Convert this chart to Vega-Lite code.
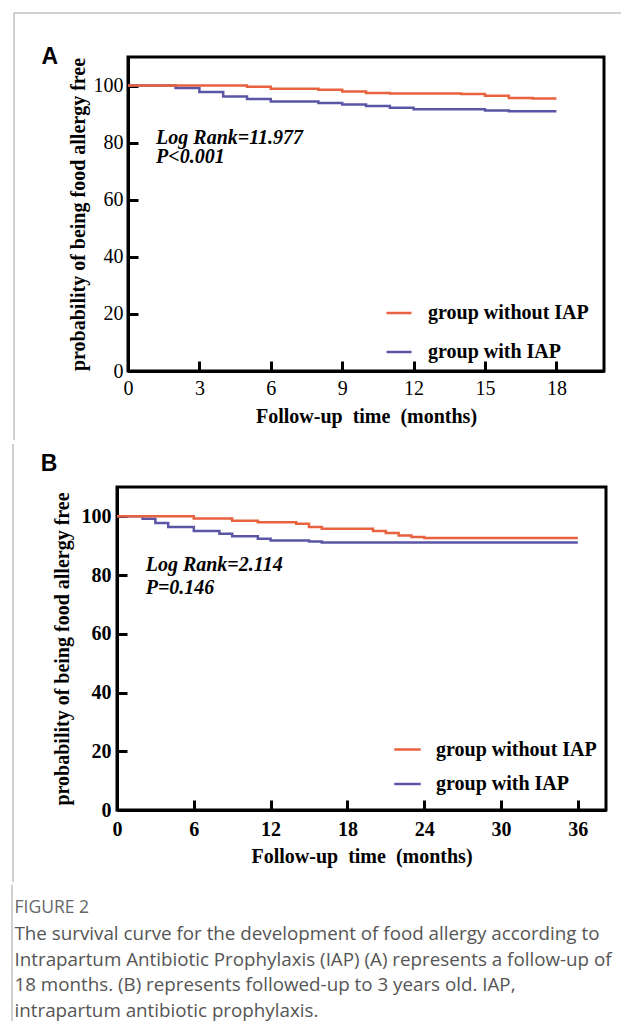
{
  "$schema": "https://vega.github.io/schema/vega-lite/v6.json",
  "padding": {"left": 10, "top": 10, "right": 0, "bottom": 0},
  "spacing": 0,
  "background": "white",
  "resolve": {"scale": {"color": "independent"}, "legend": {"color": "independent"}},
  "config": {
    "view": {"stroke": "black", "strokeWidth": 3},
    "axis": {"grid": false, "domainColor": "black", "domainWidth": 3, "tickColor": "black", "tickWidth": 3, "tickSize": -10,
      "labelFont": "Liberation Serif", "titleFont": "Liberation Serif", "labelColor": "black", "titleColor": "black",
      "labelFontSize": 20, "titleFontSize": 20, "titleFontWeight": "bold", "labelFlush": false, "labelOverlap": false},
    "legend": {"orient": "none", "title": null, "symbolType": "stroke", "symbolStrokeWidth": 2.5, "labelFont": "Liberation Serif",
      "labelFontSize": 20, "labelFontWeight": "bold", "labelColor": "black", "labelOffset": 14, "padding": 0, "labelLimit": 400},
    "text": {"font": "Liberation Serif"}
  },
  "datasets": {
    "A": [
      {"group": "group with IAP", "t": 0, "s": 100},
      {"group": "group with IAP", "t": 2, "s": 99.1},
      {"group": "group with IAP", "t": 3, "s": 97.7},
      {"group": "group with IAP", "t": 4, "s": 96.2},
      {"group": "group with IAP", "t": 5, "s": 95.3},
      {"group": "group with IAP", "t": 6, "s": 94.4},
      {"group": "group with IAP", "t": 8, "s": 93.9},
      {"group": "group with IAP", "t": 9, "s": 93.4},
      {"group": "group with IAP", "t": 10, "s": 92.8},
      {"group": "group with IAP", "t": 11, "s": 92.2},
      {"group": "group with IAP", "t": 12, "s": 91.7},
      {"group": "group with IAP", "t": 15, "s": 91.3},
      {"group": "group with IAP", "t": 16, "s": 91.0},
      {"group": "group with IAP", "t": 18, "s": 91.0},
      {"group": "group without IAP", "t": 0, "s": 100},
      {"group": "group without IAP", "t": 5, "s": 99.6},
      {"group": "group without IAP", "t": 6, "s": 98.9},
      {"group": "group without IAP", "t": 8, "s": 98.5},
      {"group": "group without IAP", "t": 9, "s": 97.9},
      {"group": "group without IAP", "t": 10, "s": 97.4},
      {"group": "group without IAP", "t": 11, "s": 97.2},
      {"group": "group without IAP", "t": 14, "s": 97.0},
      {"group": "group without IAP", "t": 15, "s": 96.4},
      {"group": "group without IAP", "t": 16, "s": 95.6},
      {"group": "group without IAP", "t": 17, "s": 95.5},
      {"group": "group without IAP", "t": 18, "s": 95.5}
    ],
    "B": [
      {"group": "group with IAP", "t": 0, "s": 100},
      {"group": "group with IAP", "t": 2, "s": 99.2},
      {"group": "group with IAP", "t": 3, "s": 97.7},
      {"group": "group with IAP", "t": 4, "s": 96.4},
      {"group": "group with IAP", "t": 6, "s": 95.0},
      {"group": "group with IAP", "t": 8, "s": 94.1},
      {"group": "group with IAP", "t": 9, "s": 93.2},
      {"group": "group with IAP", "t": 11, "s": 92.4},
      {"group": "group with IAP", "t": 12, "s": 91.8},
      {"group": "group with IAP", "t": 15, "s": 91.4},
      {"group": "group with IAP", "t": 16, "s": 91.1},
      {"group": "group with IAP", "t": 36, "s": 91.1},
      {"group": "group without IAP", "t": 0, "s": 100},
      {"group": "group without IAP", "t": 6, "s": 99.3},
      {"group": "group without IAP", "t": 9, "s": 98.5},
      {"group": "group without IAP", "t": 11, "s": 98.0},
      {"group": "group without IAP", "t": 14, "s": 97.5},
      {"group": "group without IAP", "t": 15, "s": 96.4},
      {"group": "group without IAP", "t": 16, "s": 95.8},
      {"group": "group without IAP", "t": 20, "s": 95.0},
      {"group": "group without IAP", "t": 21, "s": 94.3},
      {"group": "group without IAP", "t": 22, "s": 93.5},
      {"group": "group without IAP", "t": 23, "s": 93.0},
      {"group": "group without IAP", "t": 24, "s": 92.6},
      {"group": "group without IAP", "t": 36, "s": 92.6}
    ],
    "caption": [
      {"line": 1, "text": "The survival curve for the development of food allergy according to"},
      {"line": 2, "text": "Intrapartum Antibiotic Prophylaxis (IAP) (A) represents a follow-up of"},
      {"line": 3, "text": "18 months. (B) represents followed-up to 3 years old. IAP,"},
      {"line": 4, "text": "intrapartum antibiotic prophylaxis."}
    ]
  },
  "vconcat": [
    {"spacing": 0, "resolve": {"scale": {"color": "independent"}, "legend": {"color": "independent"}}, "hconcat": [
      {"width": 1, "height": 1, "view": {"stroke": null}, "data": {"values": []}, "mark": {"type": "point", "opacity": 0, "size": 0}, "encoding": {}},
      {
        "width": 476,
        "height": 314,
        "layer": [
          {"data": {"values": [{}]}, "mark": {"type": "rule", "color": "#a0a0a0", "strokeWidth": 1},
            "encoding": {"x": {"datum": -4.79}, "y": {"datum": -24.17}, "y2": {"datum": 125.42}}},
          {"data": {"values": [{}]}, "mark": {"type": "rule", "color": "#a0a0a0", "strokeWidth": 1},
            "encoding": {"x": {"datum": -4.79}, "x2": {"datum": 20.71}, "y": {"datum": 125.42}}},
          {"data": {"name": "A"}, "mark": {"type": "line", "interpolate": "step-after", "strokeWidth": 2.5},
            "encoding": {
              "x": {"field": "t", "type": "quantitative", "scale": {"domain": [0, 20], "nice": false, "zero": false},
                "axis": {"values": [0, 3, 6, 9, 12, 15, 18], "title": "Follow-up\u00a0 time\u00a0 (months)", "labelPadding": 17, "titlePadding": 8}},
              "y": {"field": "s", "type": "quantitative", "scale": {"domain": [0, 110], "nice": false},
                "axis": {"values": [0, 20, 40, 60, 80, 100], "title": "probability of being food allergy free", "labelPadding": 15, "titlePadding": 5}},
              "color": {"field": "group", "type": "nominal",
                "scale": {"domain": ["group without IAP", "group with IAP"], "range": ["#E8623F", "#5A55A5"]},
                "legend": {"legendX": 257, "legendY": 242, "symbolSize": 625, "rowPadding": 15, "labelOffset": 15}}
            }},
          {"data": {"values": [{}]}, "mark": {"type": "text", "text": "Log Rank=11.977", "align": "left", "baseline": "middle", "fontSize": 20, "fontWeight": "bold", "fontStyle": "italic"},
            "encoding": {"x": {"datum": 1.18}, "y": {"datum": 81.6}}},
          {"data": {"values": [{}]}, "mark": {"type": "text", "text": "P<0.001", "align": "left", "baseline": "middle", "fontSize": 20, "fontWeight": "bold", "fontStyle": "italic"},
            "encoding": {"x": {"datum": 1.18}, "y": {"datum": 74.8}}},
          {"data": {"values": [{}]}, "mark": {"type": "text", "text": "A", "font": "Liberation Sans", "align": "center", "baseline": "middle", "fontSize": 23, "fontWeight": "bold"},
            "encoding": {"x": {"datum": -3.28}, "y": {"datum": 110.0}}}
        ]
      }
    ]},
    {"spacing": 0, "resolve": {"scale": {"color": "independent"}, "legend": {"color": "independent"}}, "hconcat": [
      {"width": 1, "height": 1, "view": {"stroke": null}, "data": {"values": []}, "mark": {"type": "point", "opacity": 0, "size": 0}, "encoding": {}},
      {
        "width": 489,
        "height": 323,
        "layer": [
          {"data": {"values": [{}]}, "mark": {"type": "rule", "color": "#a0a0a0", "strokeWidth": 1},
            "encoding": {"x": {"datum": -8.124}, "y": {"datum": -24.52}, "y2": {"datum": 124.64}}},
          {"data": {"name": "B"}, "mark": {"type": "line", "interpolate": "step-after", "strokeWidth": 2.5},
            "encoding": {
              "x": {"field": "t", "type": "quantitative", "scale": {"domain": [0, 38.2], "nice": false, "zero": false},
                "axis": {"values": [0, 6, 12, 18, 24, 30, 36], "title": "Follow-up\u00a0 time\u00a0 (months)", "labelFontWeight": "bold", "labelPadding": 19.5, "titlePadding": 7}},
              "y": {"field": "s", "type": "quantitative", "scale": {"domain": [0, 110], "nice": false},
                "axis": {"values": [0, 20, 40, 60, 80, 100], "title": "probability of being food allergy free", "labelFontWeight": "bold", "labelPadding": 16, "titlePadding": 9}},
              "color": {"field": "group", "type": "nominal",
                "scale": {"domain": ["group without IAP", "group with IAP"], "range": ["#E8623F", "#5A55A5"]},
                "legend": {"legendX": 276, "legendY": 248, "symbolSize": 700, "rowPadding": 9.5, "labelOffset": 14}}
            }},
          {"data": {"values": [{}]}, "mark": {"type": "text", "text": "Log Rank=2.114", "align": "left", "baseline": "middle", "fontSize": 20, "fontWeight": "bold", "fontStyle": "italic"},
            "encoding": {"x": {"datum": 2.24}, "y": {"datum": 83.4}}},
          {"data": {"values": [{}]}, "mark": {"type": "text", "text": "P=0.146", "align": "left", "baseline": "middle", "fontSize": 20, "fontWeight": "bold", "fontStyle": "italic"},
            "encoding": {"x": {"datum": 2.24}, "y": {"datum": 75.6}}},
          {"data": {"values": [{}]}, "mark": {"type": "text", "text": "B", "font": "Liberation Sans", "align": "center", "baseline": "middle", "fontSize": 23, "fontWeight": "bold"},
            "encoding": {"x": {"datum": -5.31}, "y": {"datum": 117.83}}}
        ]
      }
    ]},
    {"spacing": 0, "hconcat": [
      {"width": 1, "height": 1, "view": {"stroke": null}, "data": {"values": []}, "mark": {"type": "point", "opacity": 0, "size": 0}, "encoding": {}},
      {
        "width": 598,
        "height": 103,
        "view": {"stroke": null},
        "layer": [
          {"data": {"values": [{}]}, "mark": {"type": "rule", "color": "#a0a0a0", "strokeWidth": 1},
            "encoding": {
              "x": {"datum": 0, "scale": {"domain": [0, 598], "nice": false, "zero": false}, "axis": null},
              "y": {"datum": -0.91, "scale": {"domain": [0, 4], "reverse": true, "nice": false, "zero": false}, "axis": null},
              "y2": {"datum": 4.42}}},
          {"data": {"values": [{}]}, "mark": {"type": "text", "text": "FIGURE 2", "font": "Open Sans", "fontSize": 17.5, "color": "#666666", "align": "left", "baseline": "middle"},
            "encoding": {"x": {"datum": 2.5, "axis": null}, "y": {"datum": 0, "axis": null}}},
          {"data": {"name": "caption"}, "mark": {"type": "text", "font": "Open Sans", "fontSize": 18.8, "color": "#555555", "align": "left", "baseline": "middle"},
            "encoding": {"x": {"datum": 2.5, "axis": null}, "y": {"field": "line", "type": "quantitative", "axis": null}, "text": {"field": "text"}}}
        ]
      }
    ]}
  ]
}
